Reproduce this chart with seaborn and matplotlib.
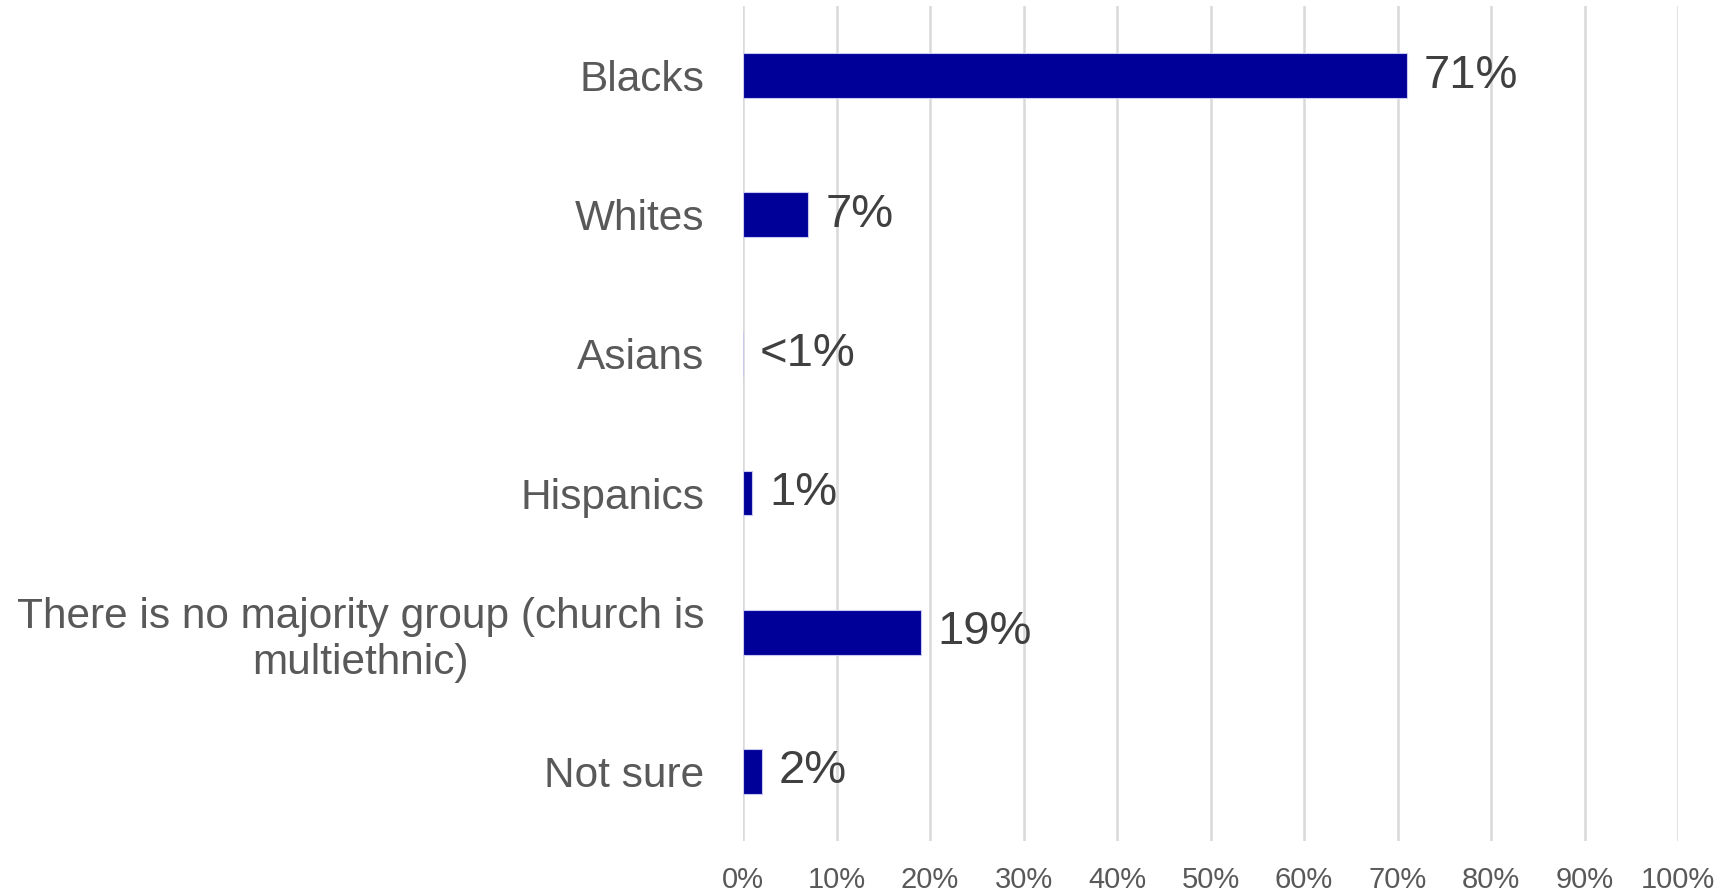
import matplotlib
matplotlib.use("Agg")
import matplotlib.pyplot as plt
import seaborn as sns
import pandas as pd
from matplotlib.ticker import PercentFormatter

categorias = [
    "Blacks",
    "Whites",
    "Asians",
    "Hispanics",
    "There is no majority group (church is\nmultiethnic)",
    "Not sure",
]
valores = [71, 7, 0, 1, 19, 2]
etiquetas = ["71%", "7%", "<1%", "1%", "19%", "2%"]
ticks_x = [0, 10, 20, 30, 40, 50, 60, 70, 80, 90, 100]

df = pd.DataFrame({"categoria": categorias, "valor": valores})

sns.set_style("white")
plt.rcParams["font.family"] = ["Liberation Sans", "DejaVu Sans"]

fig = plt.figure(figsize=(17.36, 8.93), dpi=100)
ax = fig.add_axes([0.428, 0.0582, 0.5386, 0.9351])

sns.barplot(data=df, x="valor", y="categoria", orient="h", color="#000099",
            saturation=1, width=0.32, edgecolor="#c8c8f0", linewidth=0.8, ax=ax)

ax.set_xlim(0, 100)
ax.set_ylim(5.5, -0.5)
ax.set_xticks(ticks_x)
ax.xaxis.set_major_formatter(PercentFormatter(decimals=0))
ax.grid(axis="x", color="#d9d9d9", linewidth=1.8)
ax.set_axisbelow(True)
for s in ax.spines.values():
    s.set_visible(False)

ax.set_xlabel(None)
ax.set_ylabel(None)
ax.tick_params(axis="x", length=0, pad=18, labelsize=21, labelcolor="#595959")
ax.tick_params(axis="y", length=0, pad=28, labelsize=30.5, labelcolor="#595959")
for t in ax.get_yticklabels():
    t.set_multialignment("center")

ax.bar_label(ax.containers[0], labels=etiquetas, padding=12,
             fontsize=34, color="#404040")

fig.savefig("out.png", dpi=100)
